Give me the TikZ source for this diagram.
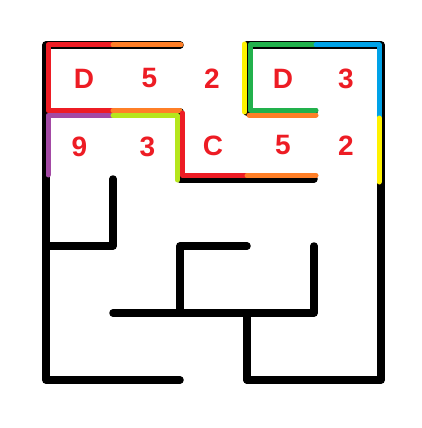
\documentclass[tikz,border=0pt]{standalone}
\usepackage{fontspec}
\setmainfont{Liberation Sans}
\definecolor{pred}{HTML}{ED1C24}
\definecolor{porange}{HTML}{FF7F27}
\definecolor{pyellow}{HTML}{FFF200}
\definecolor{pgreen}{HTML}{22B14C}
\definecolor{pblue}{HTML}{00A2E8}
\definecolor{ppurple}{HTML}{A349A4}
\definecolor{plime}{HTML}{B5E61D}
\begin{document}
\begin{tikzpicture}[x=1pt,y=-1pt,
  wall/.style={line width=7.5pt,black,line cap=round,line join=round},
  edge/.style={line width=5pt,line cap=round,line join=round},
  lab/.style={text=pred,font=\fontsize{28}{28}\selectfont\bfseries,inner sep=0pt}]
\useasboundingbox (0,0) rectangle (422,428);
% black walls
\draw[wall] (180,45) -- (46,45) -- (46,380) -- (180,380);
\draw[wall] (247,45) -- (381,45) -- (381,380) -- (247,380);
\draw[wall] (46,112) -- (180,112) -- (180,179) -- (314,179);
\draw[wall] (314,112) -- (247,112) -- (247,45);
\draw[wall] (113,179) -- (113,246) -- (46,246);
\draw[wall] (113,313) -- (314,313) -- (314,246);
\draw[wall] (247,246) -- (180,246) -- (180,313);
\draw[wall] (247,313) -- (247,380);
% coloured piece outlines
\draw[edge,pred] (113,45) -- (48,45) -- (48,110.5) -- (113,110.5);
\draw[edge,porange] (113,45) -- (181,45);
\draw[edge,porange] (113,110.5) -- (180,110.5);
\draw[edge,ppurple] (113,115.5) -- (48,115.5) -- (48,175);
\draw[edge,plime] (113,115.5) -- (177.5,115.5) -- (177.5,180);
\draw[edge,pred] (182.5,113) -- (182.5,175.5) -- (247,175.5);
\draw[edge,porange] (247,175.5) -- (316,175.5);
\draw[edge,porange] (249,115) -- (316,115);
\draw[edge,pyellow] (244.5,44) -- (244.5,112);
\draw[edge,pgreen] (316,45) -- (250,45) -- (250,110) -- (316,110);
\draw[edge,pblue] (316,45) -- (379,45) -- (379,118);
\draw[edge,pyellow] (379,118) -- (379,182);
% labels
\node[lab] (l11) at (84,78.5) {D};
\node[lab] (l12) at (149.5,78.5) {5};
\node[lab] (l13) at (212,78.5) {2};
\node[lab] (l14) at (283,78.5) {D};
\node[lab] (l15) at (346,78.5) {3};
\node[lab] (l21) at (79.5,147) {9};
\node[lab] (l22) at (147.5,147) {3};
\node[lab] (l23) at (213,146) {C};
\node[lab] (l24) at (283,145.5) {5};
\node[lab] (l25) at (346,146) {2};
\end{tikzpicture}
\end{document}
